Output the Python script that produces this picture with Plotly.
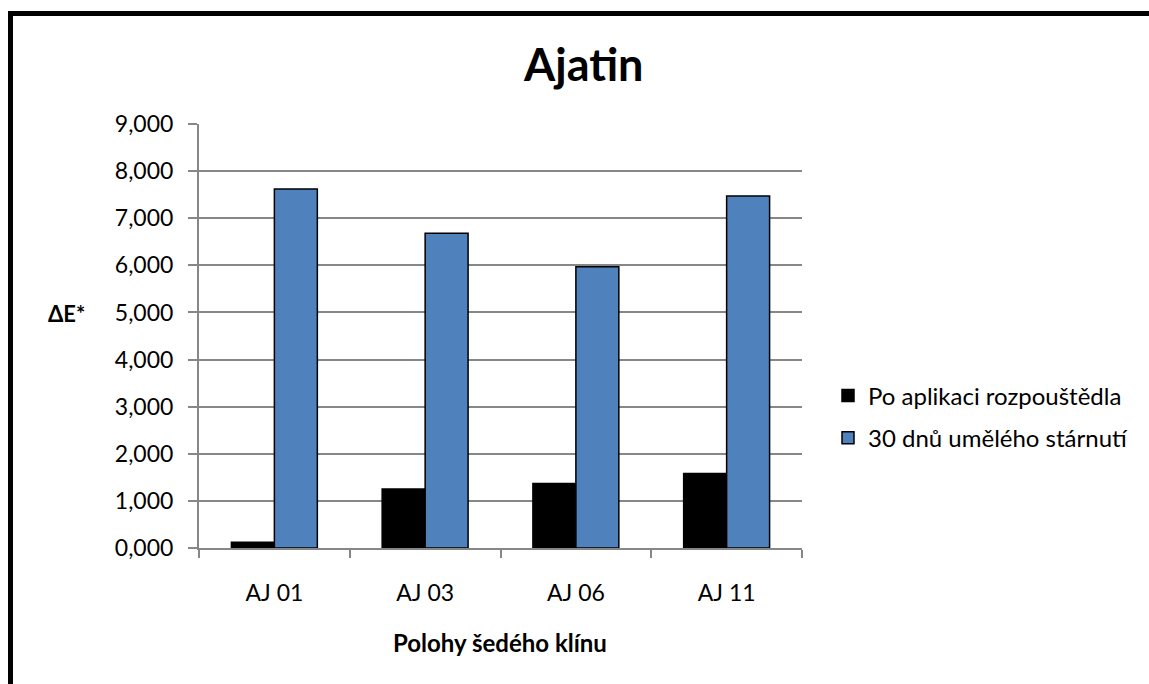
import plotly.graph_objects as go

# Measurement positions on the grey wedge and ΔE* values for each stage
categories = ["AJ 01", "AJ 03", "AJ 06", "AJ 11"]
po_aplikaci = [0.12, 1.25, 1.37, 1.58]
po_starnuti = [7.62, 6.68, 5.97, 7.47]
series_names = ["Po aplikaci rozpouštědla", "30 dnů umělého stárnutí"]
y_ticks = [0, 1, 2, 3, 4, 5, 6, 7, 8, 9]

W, H = 1149, 684
L, R, T, B = 199, 1149 - 802, 124, 684 - 548
FONT = "Lato, Calibri, sans-serif"
GRID = "#878787"


def px_to_paper_x(px):
    return (px - L) / (W - L - R)


def px_to_paper_y(py):
    return (H - B - py) / (H - T - B)


fig = go.Figure()
fig.add_trace(go.Bar(
    x=categories, y=po_aplikaci, name=series_names[0],
    marker=dict(color="#000000", line=dict(color="#000000", width=1.5)),
    legendgroup="a",
))
fig.add_trace(go.Bar(
    x=categories, y=po_starnuti, name=series_names[1],
    marker=dict(color="#4F81BD", line=dict(color="#000000", width=1.5)),
    legendgroup="b",
))

fig.update_layout(
    width=W, height=H,
    margin=dict(l=L, r=R, t=T, b=B, autoexpand=False),
    paper_bgcolor="white", plot_bgcolor="white",
    separators=", ",
    barmode="group", bargap=0.43, bargroupgap=0,
    font=dict(family=FONT, color="#000000", size=22),
    showlegend=True,
    legend=dict(
        x=px_to_paper_x(828), xanchor="left",
        y=px_to_paper_y(417), yanchor="middle",
        font=dict(family=FONT, size=24, color="#000000"),
        tracegroupgap=8, traceorder="grouped",
        bgcolor="rgba(0,0,0,0)",
    ),
)

fig.update_xaxes(
    type="category",
    showline=True, linecolor=GRID, linewidth=2,
    ticks="outside", ticklen=8, tickcolor=GRID, tickwidth=1.5,
    tickson="boundaries",
    showgrid=False,
    tickfont=dict(family=FONT, size=23),
    ticklabelstandoff=23,
)
fig.update_yaxes(
    range=[0, 9], tickvals=y_ticks, tickformat=".3f",
    showline=True, linecolor=GRID, linewidth=2,
    ticks="outside", ticklen=9, tickcolor=GRID, tickwidth=1.5,
    showgrid=True, gridcolor=GRID, gridwidth=2,
    zeroline=False,
    tickfont=dict(family=FONT, size=23),
    ticklabelstandoff=10,
)

# Chart title and axis titles
fig.add_annotation(
    text="<b>Ajatin</b>", xref="paper", yref="paper",
    x=px_to_paper_x(583), y=px_to_paper_y(64),
    xanchor="center", yanchor="middle", showarrow=False,
    font=dict(family=FONT, size=45, color="#000000"),
)
fig.add_annotation(
    text="<b>ΔE*</b>", xref="paper", yref="paper",
    x=px_to_paper_x(66), y=px_to_paper_y(313),
    xanchor="center", yanchor="middle", showarrow=False,
    font=dict(family=FONT, size=22, color="#000000"),
)
fig.add_annotation(
    text="<b>Polohy šedého klínu</b>", xref="paper", yref="paper",
    x=px_to_paper_x(500), y=px_to_paper_y(642),
    xanchor="center", yanchor="middle", showarrow=False,
    font=dict(family=FONT, size=24, color="#000000"),
)

# Frame around the chart (top and left edges)
fig.add_shape(type="line", xref="paper", yref="paper",
              x0=px_to_paper_x(8), x1=px_to_paper_x(1160),
              y0=px_to_paper_y(13.5), y1=px_to_paper_y(13.5),
              line=dict(color="#000000", width=5))
fig.add_shape(type="line", xref="paper", yref="paper",
              x0=px_to_paper_x(10.5), x1=px_to_paper_x(10.5),
              y0=px_to_paper_y(11), y1=px_to_paper_y(700),
              line=dict(color="#000000", width=5))

fig.write_html("out.html")
